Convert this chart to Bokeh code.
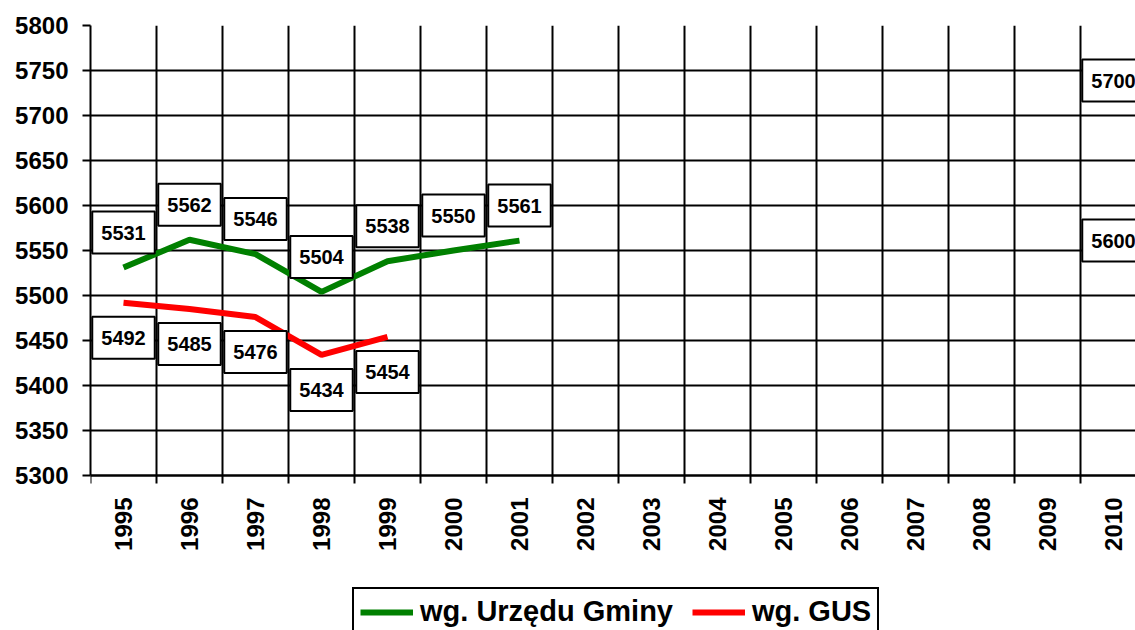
import math
from bokeh.plotting import figure
from bokeh.models import ColumnDataSource, FixedTicker, Legend, LegendItem, Range1d
from bokeh.core.properties import value
from bokeh.embed import file_html
from bokeh.resources import INLINE

NaN = float("nan")

# ---- data ----
years = [str(y) for y in range(1995, 2011)]
urzad_gminy = [5531, 5562, 5546, 5504, 5538, 5550, 5561,
               NaN, NaN, NaN, NaN, NaN, NaN, NaN, NaN, 5700]
gus = [5492, 5485, 5476, 5434, 5454,
       NaN, NaN, NaN, NaN, NaN, NaN, NaN, NaN, NaN, NaN, 5600]
y_ticks = list(range(5300, 5801, 50))
series_names = ["wg. Urzędu Gminy", "wg. GUS"]
series_colors = ["#008000", "#FF0000"]

FONT = "Liberation Sans"

xs = list(range(len(years)))
boundaries = [i - 0.5 for i in range(len(years))]

W, H = 1135, 630
TOP, LEFT = 25, 90
PX_PER_CAT = 66.0
FRAME_W = W - LEFT
FRAME_H = H - TOP
y_lo, y_hi = y_ticks[0], y_ticks[-1]
px_per_unit = 450.0 / (y_hi - y_lo)
y_start = y_hi - FRAME_H / px_per_unit  # frame continues below the axis for labels/legend

p = figure(width=W, height=H,
           x_range=Range1d(-0.5, -0.5 + FRAME_W / PX_PER_CAT),
           y_range=Range1d(y_start, y_hi),
           output_backend="svg", toolbar_location=None,
           min_border_left=LEFT, min_border_right=0,
           min_border_top=TOP, min_border_bottom=0)
p.outline_line_color = None
p.background_fill_color = "white"
p.border_fill_color = "white"

# x axis sits on the 5300 line
xa = p.xaxis[0]
xa.fixed_location = y_lo
xa.ticker = FixedTicker(ticks=xs, minor_ticks=boundaries)
xa.major_label_overrides = {i: y for i, y in zip(xs, years)}
xa.major_label_orientation = math.pi / 2
xa.major_tick_line_color = None
xa.major_tick_out = 8
xa.major_tick_in = 0
xa.minor_tick_out = 8
xa.minor_tick_in = 0
xa.minor_tick_line_color = "black"
xa.minor_tick_line_width = 2
xa.axis_line_color = "black"
xa.axis_line_width = 2
xa.major_label_standoff = 14
xa.major_label_text_font = FONT
xa.major_label_text_font_style = "bold"
xa.major_label_text_font_size = "24px"
xa.major_label_text_color = "black"

ya = p.yaxis[0]
ya.bounds = (y_lo, y_hi)
ya.ticker = FixedTicker(ticks=y_ticks)
ya.major_tick_out = 8
ya.major_tick_in = 0
ya.major_tick_line_color = "black"
ya.major_tick_line_width = 2
ya.minor_tick_line_color = None
ya.axis_line_color = "black"
ya.axis_line_width = 2
ya.major_label_standoff = 14
ya.major_label_text_font = FONT
ya.major_label_text_font_style = "bold"
ya.major_label_text_font_size = "24px"
ya.major_label_text_color = "black"

# grid
xg = p.xgrid[0]
yg = p.ygrid[0]
xg.ticker = FixedTicker(ticks=boundaries)
xg.cross_bounds = (y_lo, y_hi)
yg.ticker = FixedTicker(ticks=y_ticks)
for g in (xg, yg):
    g.grid_line_color = "black"
    g.grid_line_width = 2
    g.grid_line_alpha = 1.0

# lines
renderers = []
for vals, col in zip([urzad_gminy, gus], series_colors):
    src = ColumnDataSource(dict(x=xs, y=vals))
    r = p.line("x", "y", source=src, line_color=col, line_width=6)
    renderers.append(r)

# data labels (green above the point, red below)
for vals, off in zip([urzad_gminy, gus], [-35, 35]):
    lx = [x for x, v in zip(xs, vals) if not math.isnan(v)]
    ly = [v for v in vals if not math.isnan(v)]
    lt = [str(int(v)) for v in ly]
    src = ColumnDataSource(dict(x=lx, y=ly, t=lt))
    p.text("x", "y", text="t", source=src, y_offset=off,
           text_align="center", text_baseline="middle",
           text_font=value(FONT), text_font_style="bold",
           text_font_size="20px", text_color="black",
           background_fill_color="white",
           border_line_color="black", border_line_width=2,
           padding=dict(left=9, right=9, top=14, bottom=14))

legend = Legend(items=[LegendItem(label=n, renderers=[r])
                       for n, r in zip(series_names, renderers)],
                orientation="horizontal", location=(262, -6),
                padding=6, spacing=19, glyph_width=53, glyph_height=20,
                label_standoff=7, label_text_font=FONT,
                label_text_font_style="bold", label_text_font_size="29px",
                label_text_color="black",
                border_line_color="black", border_line_width=2,
                border_line_alpha=1.0,
                background_fill_color="white", background_fill_alpha=1.0,
                margin=0)
p.add_layout(legend, "center")

open("out.html", "w").write(file_html(p, INLINE))
